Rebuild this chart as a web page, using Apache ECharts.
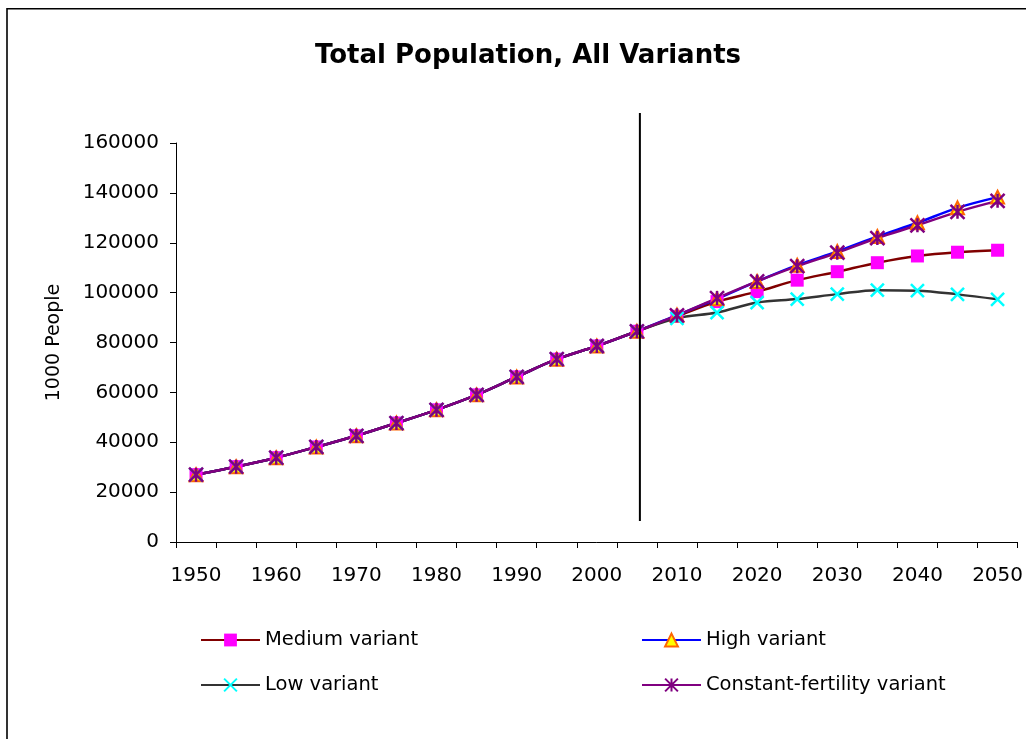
<!DOCTYPE html>
<html>
<head>
<meta charset="utf-8">
<script src="https://cdn.jsdelivr.net/npm/echarts@6/dist/echarts.min.js"></script>
<style>
  html, body { margin: 0; padding: 0; background: #ffffff; }
  #chart { width: 1026px; height: 739px; }
</style>
</head>
<body>
<div id="chart"></div>
<script>
// Years on the category axis (five-year steps)
const years = ['1950', '1955', '1960', '1965', '1970', '1975', '1980', '1985', '1990', '1995', '2000',
               '2005', '2010', '2015', '2020', '2025', '2030', '2035', '2040', '2045', '2050'];

// Total population (thousands) per projection variant
const mediumVariant = [27000, 30200, 33800, 38100, 42600, 47700, 53000, 59000, 66200, 73300, 78600,
                       84500, 90500, 96400, 100400, 105000, 108400, 112000, 114700, 116200, 117000];
const highVariant   = [27000, 30200, 33800, 38100, 42600, 47700, 53000, 59000, 66200, 73300, 78600,
                       84500, 91000, 97500, 104500, 111000, 116500, 122500, 128000, 134000, 138300];
const lowVariant    = [27000, 30200, 33800, 38100, 42600, 47700, 53000, 59000, 66200, 73300, 78600,
                       84500, 89700, 92000, 96000, 97400, 99400, 101000, 100800, 99300, 97300];
const constVariant  = [27000, 30200, 33800, 38100, 42600, 47700, 53000, 59000, 66200, 73300, 78600,
                       84500, 90900, 97800, 104500, 110600, 116000, 121900, 127000, 132400, 136800];

// Y axis range
const yMin = 0, yMax = 160000, yStep = 20000;

// Year that separates estimates from projections, and the vertical span of the divider
const dividerYear = '2005';
const dividerSpan = [172000, 8400];

const FONT = 'DejaVu Sans';
const crossPath = 'path://M0,0L10,10M10,0L0,10';
const starPath = 'path://M5,0L5,10M0,0L10,10M10,0L0,10';

const chart = echarts.init(document.getElementById('chart'), null, { renderer: 'canvas' });

const legendText = { fontFamily: FONT, fontSize: 19.5, color: '#000', lineHeight: 20 };

const frame = {
  id: 'frame',
  type: 'rect',
  shape: { x: 7, y: 8.8, width: 1040, height: 760 },
  style: { fill: 'none', stroke: '#000', lineWidth: 1.6 },
  silent: true
};

chart.setOption({
  animation: false,
  backgroundColor: '#ffffff',
  title: {
    text: 'Total Population, All Variants',
    left: 523,
    top: 38,
    textAlign: 'center',
    textStyle: { fontFamily: FONT, fontSize: 26, fontWeight: 'bold', color: '#000' }
  },
  graphic: [frame],
  grid: { left: 176, right: 7, top: 143, bottom: 197, containLabel: false },
  legend: [
    {
      orient: 'vertical', left: 195, top: 625, itemWidth: 59, itemHeight: 16, itemGap: 25,
      selectedMode: false, textStyle: legendText,
      data: ['Medium variant', 'Low variant']
    },
    {
      orient: 'vertical', left: 636, top: 625, itemWidth: 59, itemHeight: 16, itemGap: 25,
      selectedMode: false, textStyle: legendText,
      data: ['High variant', 'Constant-fertility variant']
    }
  ],
  xAxis: {
    type: 'category',
    data: years,
    boundaryGap: true,
    axisLine: { show: true, lineStyle: { color: '#000', width: 1 } },
    axisTick: { show: true, interval: 0, length: 6, lineStyle: { color: '#000' } },
    axisLabel: { interval: 1, margin: 24, fontFamily: FONT, fontSize: 20, color: '#000' },
    splitLine: { show: false }
  },
  yAxis: {
    type: 'value',
    min: yMin, max: yMax, interval: yStep,
    name: '1000 People',
    nameLocation: 'middle',
    nameRotate: 90,
    nameGap: 112,
    nameTextStyle: { fontFamily: FONT, fontSize: 19, color: '#000' },
    axisLine: { show: true, lineStyle: { color: '#000', width: 1 } },
    axisTick: { show: true, length: 6, lineStyle: { color: '#000' } },
    axisLabel: {
      margin: 17, fontFamily: FONT, fontSize: 20, color: '#000',
      formatter: function (v) { return String(v); }
    },
    splitLine: { show: false }
  },
  series: [
    {
      name: 'Medium variant', type: 'line', data: mediumVariant, smooth: 0.35,
      showAllSymbol: true, symbol: 'rect', symbolSize: 13,
      lineStyle: { color: '#800000', width: 2.5 },
      itemStyle: { color: '#ff00ff' }
    },
    {
      name: 'High variant', type: 'line', data: highVariant, smooth: 0.35,
      showAllSymbol: true, symbol: 'triangle', symbolSize: 13,
      lineStyle: { color: '#0000ff', width: 2.5 },
      itemStyle: { color: '#ffff00', borderColor: '#ff6600', borderWidth: 2 }
    },
    {
      name: 'Low variant', type: 'line', data: lowVariant, smooth: 0.35,
      showAllSymbol: true, symbol: crossPath, symbolSize: 13,
      lineStyle: { color: '#333333', width: 2.5 },
      itemStyle: { color: '#00ffff', borderColor: '#00ffff', borderWidth: 2.5 }
    },
    {
      name: 'Constant-fertility variant', type: 'line', data: constVariant, smooth: 0.35,
      showAllSymbol: true, symbol: starPath, symbolSize: 14,
      lineStyle: { color: '#800080', width: 2.5 },
      itemStyle: { color: '#800080', borderColor: '#800080', borderWidth: 2.5 }
    }
  ]
});

// Divider between estimates and projections, placed through the axis scales
const finder = { xAxisIndex: 0, yAxisIndex: 0 };
const pTop = chart.convertToPixel(finder, [dividerYear, dividerSpan[0]]);
const pBottom = chart.convertToPixel(finder, [dividerYear, dividerSpan[1]]);
chart.setOption({
  graphic: [frame, {
    id: 'divider',
    type: 'line',
    shape: { x1: pTop[0] + 3, y1: pTop[1], x2: pBottom[0] + 3, y2: pBottom[1] },
    style: { stroke: '#000', lineWidth: 2 },
    z: 10,
    silent: true
  }]
});
</script>
</body>
</html>
